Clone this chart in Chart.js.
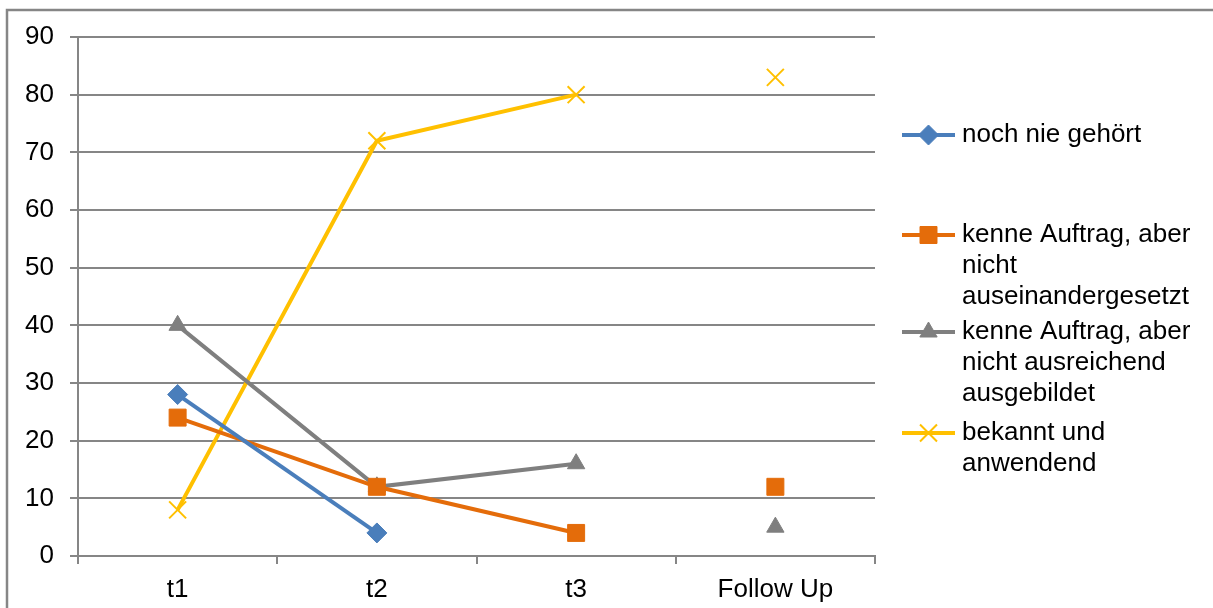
<!DOCTYPE html>
<html>
<head>
<meta charset="utf-8">
<script src="https://cdn.jsdelivr.net/npm/chart.js@4/dist/chart.umd.min.js"></script>
<style>
  html, body { margin: 0; padding: 0; background: #fff; overflow: hidden; }
  #wrap { width: 1213px; height: 608px; position: relative; }
</style>
</head>
<body>
<div id="wrap"><canvas id="mychart"></canvas></div>
<script>
// categories and values
const categories = ["t1", "t2", "t3", "Follow Up"];
const seriesNames = [
  "noch nie gehört",
  "kenne Auftrag, aber nicht auseinandergesetzt",
  "kenne Auftrag, aber nicht ausreichend ausgebildet",
  "bekannt und anwendend"
];
const nieGehoert = [28, 4, null, null];
const nichtAuseinander = [24, 12, 4, 12];
const nichtAusgebildet = [40, 12, 16, 5];
const bekannt = [8, 72, 80, 83];
const yTicks = [0, 10, 20, 30, 40, 50, 60, 70, 80, 90];

const FONT = '"Liberation Sans", Arial, sans-serif';
const GRID = "#868686";
const FSIZE = 26;

// no line between t3 and Follow Up
const hideLast = (ctx) => (ctx.p1DataIndex === 3 ? "transparent" : undefined);

function makeSet(label, data, color, style, radius, bw) {
  return {
    label: label,
    data: data,
    borderColor: color,
    backgroundColor: color,
    borderWidth: 4,
    pointStyle: style,
    pointRadius: radius,
    pointHoverRadius: radius,
    pointBorderWidth: bw,
    pointBorderColor: color,
    pointBackgroundColor: color,
    tension: 0,
    fill: false,
    segment: { borderColor: hideLast }
  };
}

const datasets = [
  makeSet(seriesNames[0], nieGehoert, "#4A7EBB", "rectRot", 10, 1),
  makeSet(seriesNames[1], nichtAuseinander, "#E46C0A", "rect", 12, 1),
  makeSet(seriesNames[2], nichtAusgebildet, "#7F7F7F", "triangle", 10, 1),
  makeSet(seriesNames[3], bekannt, "#FFC000", "crossRot", 12, 2)
];

// frame around the chart (top and left edges are visible)
const framePlugin = {
  id: "frame",
  beforeDraw(chart) {
    const ctx = chart.ctx;
    ctx.save();
    ctx.strokeStyle = GRID;
    ctx.lineWidth = 2.5;
    ctx.beginPath();
    ctx.moveTo(7, 608);
    ctx.lineTo(7, 10);
    ctx.lineTo(1213, 10);
    ctx.stroke();
    ctx.restore();
  }
};

// excel style legend on the right with wrapped labels
const legendPlugin = {
  id: "sideLegend",
  afterDraw(chart) {
    const ctx = chart.ctx;
    const firstLineY = [135, 235, 332, 433];
    const lineH = 31;
    const textX = 962;
    const maxW = 245;
    ctx.save();
    ctx.font = FSIZE + "px " + FONT;
    ctx.textBaseline = "middle";
    chart.data.datasets.forEach((ds, i) => {
      const y = firstLineY[i];
      ctx.strokeStyle = ds.borderColor;
      ctx.lineWidth = 4;
      ctx.beginPath();
      ctx.moveTo(902, y);
      ctx.lineTo(955, y);
      ctx.stroke();
      ctx.fillStyle = ds.borderColor;
      ctx.strokeStyle = ds.borderColor;
      ctx.lineWidth = ds.pointBorderWidth;
      Chart.helpers.drawPoint(ctx, {
        pointStyle: ds.pointStyle,
        rotation: 0,
        radius: ds.pointRadius,
        borderWidth: ds.pointBorderWidth
      }, 928.5, y);
      // wrap text
      const words = ds.label.split(" ");
      const lines = [];
      let cur = "";
      words.forEach((w) => {
        const test = cur ? cur + " " + w : w;
        if (ctx.measureText(test).width > maxW && cur) {
          lines.push(cur);
          cur = w;
        } else {
          cur = test;
        }
      });
      if (cur) lines.push(cur);
      ctx.fillStyle = "#000";
      lines.forEach((ln, k) => ctx.fillText(ln, textX, y + k * lineH));
    });
    ctx.restore();
  }
};

new Chart(document.getElementById("mychart"), {
  type: "line",
  data: { labels: categories, datasets: datasets },
  options: {
    responsive: true,
    maintainAspectRatio: false,
    animation: false,
    layout: { padding: { left: 0, top: 37, right: 338, bottom: 0 } },
    plugins: {
      legend: { display: false },
      tooltip: { enabled: false }
    },
    scales: {
      x: {
        type: "category",
        offset: true,
        afterFit: (scale) => { scale.height = 52; },
        grid: {
          offset: true,
          drawOnChartArea: false,
          drawTicks: true,
          tickLength: 8,
          color: GRID,
          lineWidth: 2
        },
        border: { display: true, color: GRID, width: 2 },
        ticks: {
          color: "#000",
          font: { family: FONT, size: FSIZE },
          padding: 10,
          maxRotation: 0
        }
      },
      y: {
        min: 0,
        max: 90,
        afterFit: (scale) => { scale.width = 78; },
        afterBuildTicks: (scale) => { scale.ticks = yTicks.map((v) => ({ value: v })); },
        grid: {
          color: GRID,
          lineWidth: 2,
          tickLength: 8,
          drawTicks: true
        },
        border: { display: true, color: GRID, width: 2 },
        ticks: {
          color: "#000",
          font: { family: FONT, size: FSIZE },
          padding: 16
        }
      }
    }
  },
  plugins: [framePlugin, legendPlugin]
});
</script>
</body>
</html>
